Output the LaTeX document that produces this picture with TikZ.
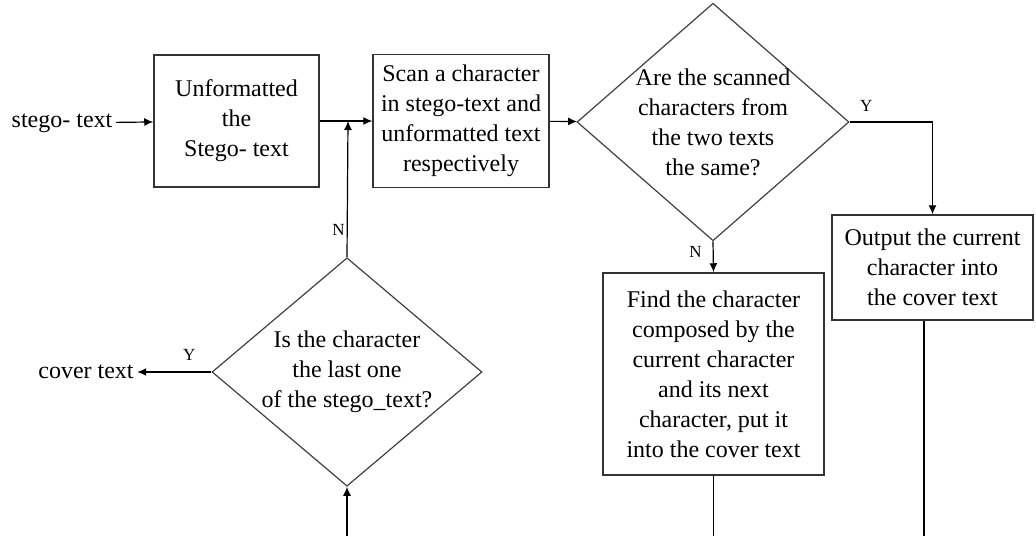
\documentclass[tikz,border=0pt]{standalone}
\usepackage{fontspec}
\setmainfont{Liberation Serif}
\usetikzlibrary{shapes.geometric,arrows.meta}

\tikzset{
  procbox/.style={draw=black!80,line width=1.5pt,rectangle,inner sep=0pt,align=center},
  decide/.style={draw=black!75,line width=1.2pt,diamond,inner sep=-6pt,align=center},
  plain/.style={inner sep=3pt},
  yn/.style={font=\fontsize{17}{18}\selectfont,inner sep=1pt}
}

\begin{document}
\begin{tikzpicture}[x=1pt,y=-1pt,line width=1.2pt,>={Latex[length=9pt,width=8pt]},
                    font=\fontsize{24}{30}\selectfont]
                \useasboundingbox (0,0) rectangle (1036,536);
                \node[plain] (stegoin) at (62,123) {stego- text};
                \node[procbox,minimum width=165pt,minimum height=132pt] (unfmt) at (236.5,121) {Unformatted\\the\\Stego- text};
                \node[procbox,minimum width=176pt,minimum height=133pt] (scan) at (461,121) {Scan a character\\in stego-text and\\unformatted text\\respectively};
                \node[decide,minimum width=272pt,minimum height=226pt] (same) at (713,122) {Are the scanned\\characters from\\the two texts\\the same?};
                \node[procbox,minimum width=201pt,minimum height=105pt] (outcur) at (932.5,267.5) {Output the current\\character into\\the cover text};
                \node[procbox,minimum width=221pt,minimum height=202pt] (findchar) at (713.5,374) {Find the character\\composed by the\\current character\\and its next\\character, put it\\into the cover text};
                \node[decide,minimum width=270pt,minimum height=206pt] (islast) at (347,372) {Is the character\\the last one\\of the stego\_text?};
                \node[plain] (cover) at (86,372) {cover text};
                \coordinate (join) at (348,121);
                \coordinate (bot1) at (347,536);
                \coordinate (bot2) at (713.5,536);
                \coordinate (bot3) at (924,536);
                \draw[->] (stegoin) -- (unfmt);
                \draw[->] (unfmt) -- (scan);
                \draw[->] (scan) -- (same);
                \draw[->] (same.east) -| (outcur.north) node[pos=0.1,above=9pt,yn] {Y};
                \draw[->] (same.south) -- (findchar.north) node[pos=0.35,left=10pt,yn] {N};
                \draw[->] (islast.north) -- (join) node[pos=0.2,left=1pt,yn] {N};
                \draw[->] (islast.west) -- (cover) node[pos=0.3,above=10pt,yn] {Y};
                \draw[->] (bot1) -- (islast.south);
                \draw (findchar.south) -- (bot2);
                \draw (bot3 |- outcur.south) -- (bot3);
            \end{tikzpicture}
\end{document}
